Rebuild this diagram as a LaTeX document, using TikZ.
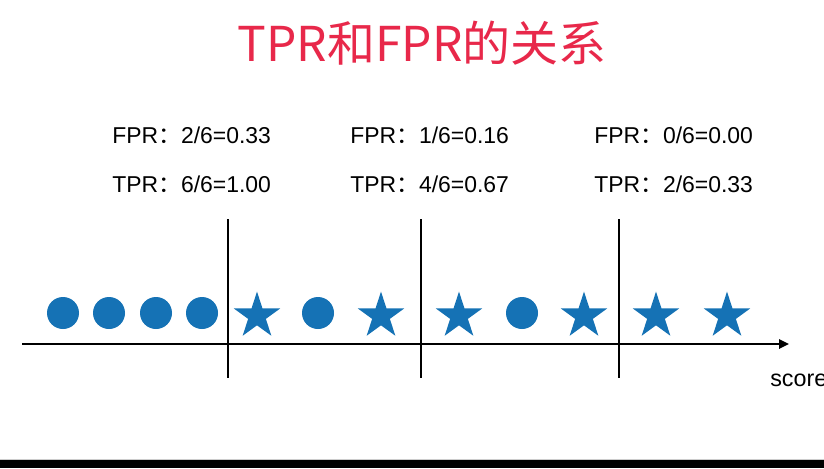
\documentclass[tikz,border=0pt]{standalone}
\usepackage{fontspec}
\setmainfont{Liberation Sans}
\newfontfamily\cjk{Noto Sans CJK SC}
\usetikzlibrary{shapes.geometric,arrows.meta}
\definecolor{dotblue}{RGB}{21,114,181}
\definecolor{titlered}{RGB}{232,40,74}
\begin{document}
\begin{tikzpicture}[x=0.75pt,y=-0.75pt,
  dotnode/.style={circle,fill=dotblue,draw=none,inner sep=0pt,minimum size=24pt},
  starnode/.style={star,star points=5,star point ratio=2.618,fill=dotblue,draw=none,inner sep=0pt,minimum size=36.6pt},
  rate/.style={anchor=base west,inner sep=0pt,font=\fontsize{17.2}{19}\selectfont},
  sep/.style={line width=0.8pt,black},
  axis/.style={line width=1.6pt,black,-{Triangle[length=7.5pt,width=7pt]}}]
\useasboundingbox (0,0) rectangle (824,468);
\clip (0,0) rectangle (824,468);
\fill[white] (0,0) rectangle (824,468);
% bottom bar
\fill[black!20] (0,458.5) rectangle (824,460);
\fill[black] (0,460) rectangle (824,468);
% title
\node[anchor=base,inner sep=0pt,text=titlered,font=\cjk\fontsize{36}{40}\selectfont] (title) at (422,61) {TPR和FPR的关系};
% rates
\node[rate] (f1) at (112,143) {FPR{\cjk ：}2/6=0.33};
\node[rate] (t1) at (112,192) {TPR{\cjk ：}6/6=1.00};
\node[rate] (f2) at (350,143) {FPR{\cjk ：}1/6=0.16};
\node[rate] (t2) at (350,192) {TPR{\cjk ：}4/6=0.67};
\node[rate] (f3) at (594,143) {FPR{\cjk ：}0/6=0.00};
\node[rate] (t3) at (594,192) {TPR{\cjk ：}2/6=0.33};
% separators
\coordinate (s1t) at (228,219); \coordinate (s1b) at (228,378);
\coordinate (s2t) at (421,219); \coordinate (s2b) at (421,378);
\coordinate (s3t) at (619,219); \coordinate (s3b) at (619,378);
\draw[sep] (s1t) -- (s1b);
\draw[sep] (s2t) -- (s2b);
\draw[sep] (s3t) -- (s3b);
% axis
\coordinate (a0) at (22,344);
\coordinate (a1) at (789,344);
\draw[axis] (a0) -- (a1);
\node[anchor=base west,inner sep=0pt,font=\fontsize{17.5}{19}\selectfont] (score) at (770,386) {score};
% samples
\node[dotnode] (c1) at (63,313) {};
\node[dotnode] (c2) at (109,313) {};
\node[dotnode] (c3) at (156,313) {};
\node[dotnode] (c4) at (202,313) {};
\node[starnode] (st1) at (257,316) {};
\node[dotnode] (c5) at (318,313) {};
\node[starnode] (st2) at (381,316) {};
\node[starnode] (st3) at (459,316) {};
\node[dotnode] (c6) at (522,313) {};
\node[starnode] (st4) at (584,316) {};
\node[starnode] (st5) at (656,316) {};
\node[starnode] (st6) at (727,316) {};
\end{tikzpicture}
\end{document}
